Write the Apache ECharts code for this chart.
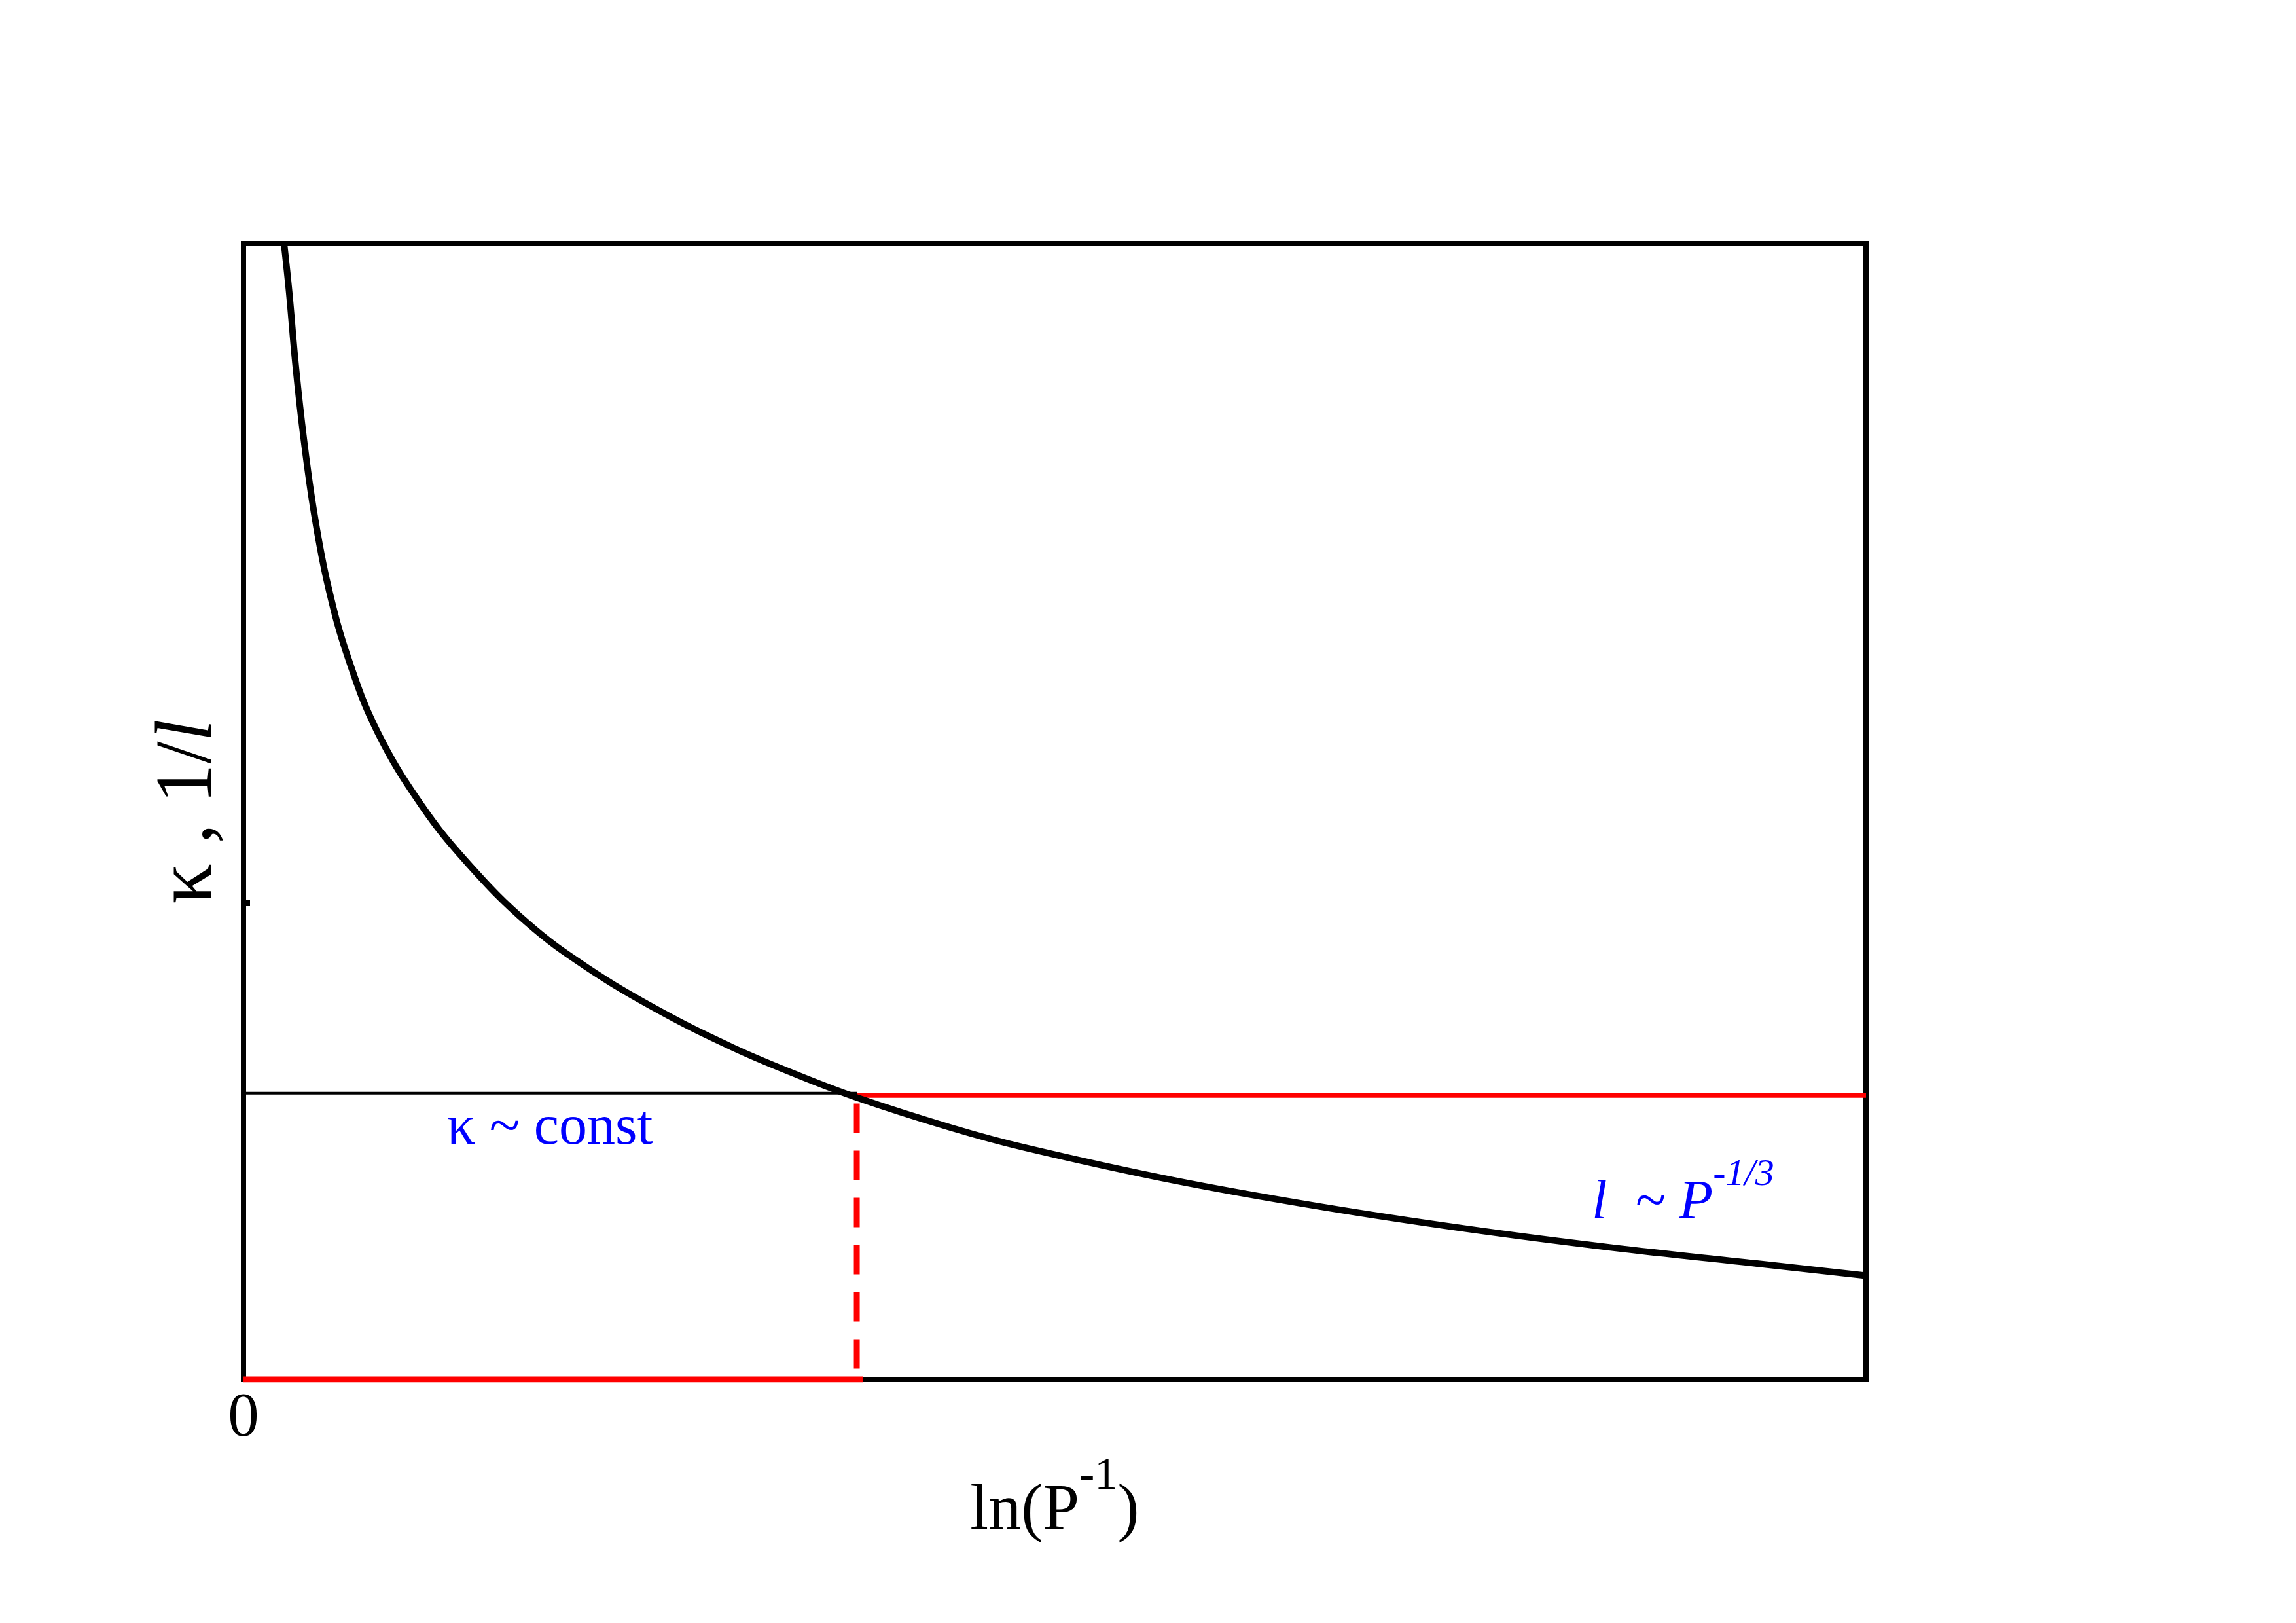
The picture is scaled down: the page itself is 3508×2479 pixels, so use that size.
<!DOCTYPE html>
<html lang="en">
<head>
    <meta charset="UTF-8">
    <title>kappa vs ln(1/P)</title>
    <script src="https://cdn.jsdelivr.net/npm/echarts@6/dist/echarts.min.js"></script>
    <style>
        html, body { margin: 0; padding: 0; background: #fff; }
        #main { width: 3508px; height: 2479px; }
    </style>
</head>
<body>
    <div id="main"></div>

    <script>
        // curve (x: ln(1/P), y: kappa, 1/l), arbitrary units 0..10
        var curveX = [0.250, 0.282, 0.322, 0.372, 0.435, 0.521, 0.647, 0.827, 1.098, 1.387, 1.748, 2.109, 2.560, 3.011, 3.372, 3.778, 4.365, 4.816, 5.718, 6.621, 7.523, 8.426, 9.328, 10.0];
        var curveY = [10.00, 9.566, 8.921, 8.276, 7.632, 6.987, 6.342, 5.698, 5.053, 4.537, 4.021, 3.635, 3.248, 2.925, 2.705, 2.483, 2.215, 2.041, 1.757, 1.525, 1.329, 1.162, 1.020, 0.914];

        // kappa ~ const level and the crossover point
        var kappaLevel = [2.52, 2.50];   // black part, red part
        var crossX = 3.78;
        var dashTop = 2.43;
        var bottomRedEnd = 3.82;
        var xTicks = [0];
        var yTickMark = [4.2];

        var serif = '"Liberation Serif", "DejaVu Serif", serif';

        function pairs(xs, ys) {
            var out = [];
            for (var i = 0; i < xs.length; i++) out.push([xs[i], ys[i]]);
            return out;
        }

        var myChart = echarts.init(document.getElementById('main'));

        var option = {
            backgroundColor: '#fff',
            animation: false,
            grid: {
                left: 372, top: 372, width: 2479, height: 1735,
                show: true, borderColor: '#000', borderWidth: 8,
                backgroundColor: 'transparent'
            },
            xAxis: {
                type: 'value', min: 0, max: 10, interval: 10,
                axisLine: { show: false },
                axisTick: { show: false },
                splitLine: { show: false },
                axisLabel: {
                    margin: 14,
                    fontFamily: serif, fontSize: 95, color: '#000',
                    formatter: function (v) { return xTicks.indexOf(v) >= 0 ? String(v) : ''; }
                },
                name: '{a|ln(P}{s|-1}{a|)}',
                nameLocation: 'middle',
                nameGap: 114,
                nameTextStyle: {
                    rich: {
                        a: { fontFamily: serif, fontSize: 100, lineHeight: 176, color: '#000' },
                        s: { fontFamily: serif, fontSize: 70, verticalAlign: 'top', color: '#000' }
                    }
                }
            },
            yAxis: {
                type: 'value', min: 0, max: 10, interval: 10,
                axisLine: { show: false },
                axisLabel: { show: false },
                splitLine: { show: false },
                axisTick: {
                    show: true, inside: true, length: 10,
                    customValues: yTickMark,
                    lineStyle: { color: '#000', width: 10 }
                },
                name: '{k|κ , 1/}{i|l}',
                nameLocation: 'middle',
                nameRotate: 90,
                nameGap: 17,
                nameTextStyle: {
                    rich: {
                        k: { fontFamily: serif, fontSize: 122, lineHeight: 130, color: '#000' },
                        i: { fontFamily: serif, fontSize: 122, lineHeight: 130, fontStyle: 'italic', color: '#000' }
                    }
                }
            },
            graphic: [
                {
                    type: 'text', x: 683, y: 1724,
                    style: {
                        text: 'κ ~ const',
                        font: '86px ' + serif,
                        fill: '#0000ff',
                        verticalAlign: 'middle'
                    }
                },
                {
                    type: 'text', x: 2432, y: 1766,
                    style: {
                        text: '{a|l  ~ P}{b|-1/3}',
                        verticalAlign: 'top',
                        rich: {
                            a: { fontFamily: serif, fontSize: 85, fontStyle: 'italic', lineHeight: 145, fill: '#0000ff' },
                            b: { fontFamily: serif, fontSize: 58, fontStyle: 'italic', verticalAlign: 'top', fill: '#0000ff' }
                        }
                    }
                }
            ],
            series: [
                {
                    name: 'kappa const',
                    type: 'line',
                    data: [[0, kappaLevel[0]], [crossX, kappaLevel[0]]],
                    showSymbol: false,
                    lineStyle: { color: '#000', width: 4 }
                },
                {
                    name: 'level red',
                    type: 'line',
                    data: [[crossX, kappaLevel[1]], [10, kappaLevel[1]]],
                    showSymbol: false,
                    lineStyle: { color: '#ff0000', width: 7 }
                },
                {
                    name: 'crossover',
                    type: 'line',
                    data: [[crossX, dashTop], [crossX, 0]],
                    showSymbol: false,
                    lineStyle: { color: '#ff0000', width: 9, type: [45, 27] }
                },
                {
                    name: 'bottom red',
                    type: 'line',
                    data: [[0, 0], [bottomRedEnd, 0]],
                    showSymbol: false,
                    lineStyle: { color: '#ff0000', width: 9 }
                },
                {
                    name: 'curve',
                    type: 'line',
                    data: pairs(curveX, curveY),
                    smooth: 0.4,
                    showSymbol: false,
                    clip: true,
                    lineStyle: { color: '#000', width: 10 }
                }
            ]
        };

        myChart.setOption(option);
    </script>
</body>
</html>
